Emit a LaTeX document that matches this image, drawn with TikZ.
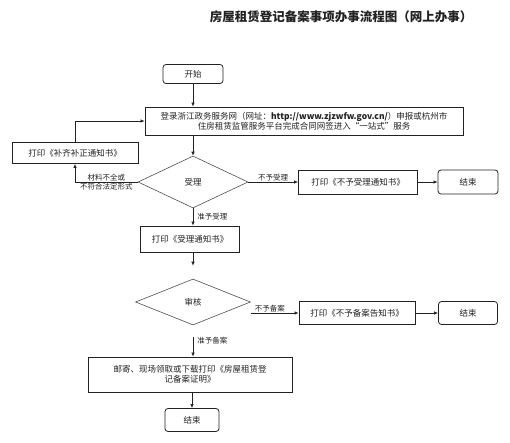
\documentclass[tikz,border=0pt]{standalone}
\usepackage{fontspec}
\setmainfont{Noto Sans CJK SC}
\usetikzlibrary{arrows.meta,shapes.geometric}
\definecolor{ink}{HTML}{222222}
\tikzset{
  every node/.style={text=ink},
  box/.style={draw=ink, line width=0.8pt, rectangle, inner sep=1pt, align=center, font=\fontsize{8.5}{10.5}\selectfont},
  rbox/.style={box, rounded corners=3pt},
  dia/.style={draw=ink!80, line width=0.6pt, diamond, inner sep=0pt, font=\fontsize{8.5}{10}\selectfont},
  lab/.style={font=\fontsize{7.5}{9}\selectfont, inner sep=1pt},
  conn/.style={draw=ink, line width=0.7pt, -{Latex[length=4pt,width=3.5pt]}},
}
\begin{document}
\begin{tikzpicture}[x=1pt,y=-1pt]
\useasboundingbox (0,0) rectangle (510,442);
\node[font=\fontsize{12.5}{14}\selectfont\bfseries] (title) at (341,17) {房屋租赁登记备案事项办事流程图（网上办事）};
\node[rbox, minimum width=60pt, minimum height=19pt] (start) at (193,74) {开始};
\node[box, minimum width=318pt, minimum height=28pt] (main) at (304,121) {登录浙江政务服务网（网址：\textbf{http://www.zjzwfw.gov.cn/}）申报或杭州市\\住房租赁监管服务平台完成合同网签进入“一站式”服务};
\node[box, minimum width=126pt, minimum height=21pt] (bl) at (75,153) {打印《补齐补正通知书》};
\node[dia, minimum width=110pt, minimum height=52pt] (d1) at (193,182) {受理};
\node[box, minimum width=119pt, minimum height=24pt] (bno1) at (358,182) {打印《不予受理通知书》};
\node[rbox, minimum width=60pt, minimum height=24pt] (end1) at (468,182) {结束};
\node[box, minimum width=99pt, minimum height=26pt] (bacc) at (190,239) {打印《受理通知书》};
\node[dia, minimum width=115pt, minimum height=46pt] (d2) at (193,302) {审核};
\node[box, minimum width=116pt, minimum height=23pt] (bno2) at (357,313) {打印《不予备案告知书》};
\node[rbox, minimum width=59pt, minimum height=23pt] (end2) at (468,313) {结束};
\node[box, minimum width=204pt, minimum height=35pt] (bfin) at (190,374.5) {邮寄、现场领取或下载打印《房屋租赁登\\记备案证明》};
\node[rbox, minimum width=54pt, minimum height=23pt] (end3) at (192,420) {结束};

\draw[conn] (start.south) -- (start.south |- main.north);
\draw[conn] (main.south -| d1.north) -- (d1.north);
\draw[conn] (d1.west) -- node[lab, above] {材料不全或} node[lab, below] {不符合法定形式} (d1.west -| bl.south) -- (bl.south);
\draw[conn] (bl.north) |- (main.west);
\draw[conn] (d1.east) -- node[lab, above] {不予受理} (bno1.west);
\draw[conn] (bno1) -- (end1);
\draw[conn] (d1.south) -- node[lab, right=3pt] {准予受理} (bacc.north -| d1.south);
\draw[conn, shorten >=13pt] (bacc.south -| d2.north) -- (d2.north);
\draw[conn] (d2.east |- bno2.west) -- node[lab, above, pos=0.4] {不予备案} (bno2.west);
\draw[conn] (bno2) -- (end2);
\draw[conn, shorten <=12pt] (d2.south) -- node[lab, right=3pt] {准予备案} (bfin.north -| d2.south);
\draw[conn] (bfin.south -| end3.north) -- (end3.north);
\end{tikzpicture}
\end{document}
